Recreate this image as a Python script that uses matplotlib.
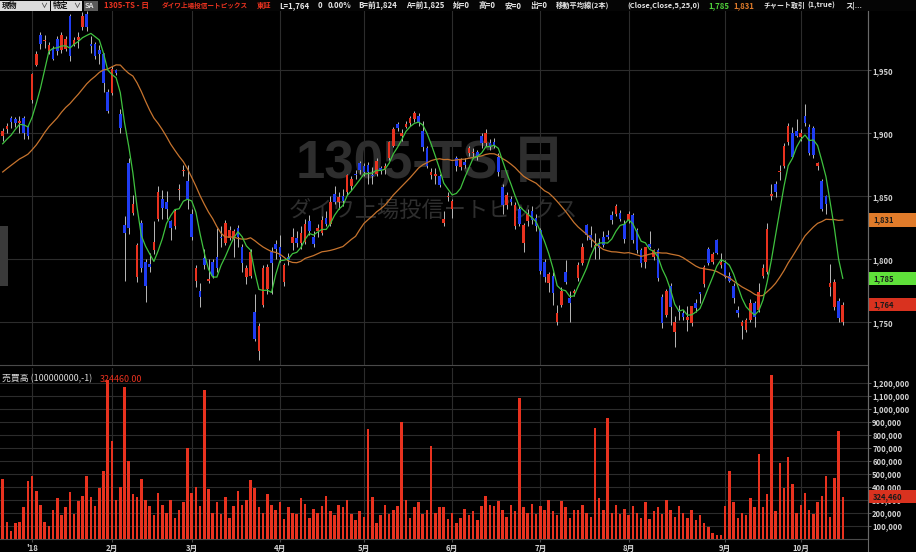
import numpy as np
import matplotlib
matplotlib.use("Agg")
from matplotlib import pyplot as plt
from matplotlib.patches import Rectangle
from matplotlib.transforms import blended_transform_factory

plt.rcParams['font.family'] = ['Noto Sans CJK JP', 'DejaVu Sans']

# closes before the first visible day (only used to seed the moving averages)
prev_close = [1838, 1845, 1842, 1850, 1855, 1848, 1860, 1866, 1852, 1845, 1858, 1870,
              1875, 1868, 1880, 1886, 1878, 1884, 1890, 1882, 1888, 1893, 1885, 1890]

# daily candles: open, high, low, close
ohlc = [
    (1898, 1904, 1894, 1902), (1903, 1908, 1900, 1906), (1912, 1914, 1904, 1909), (1911, 1913, 1905, 1908),
    (1908, 1914, 1900, 1910), (1912, 1914, 1895, 1900), (1905, 1906, 1895, 1898), (1926, 1948, 1924, 1947),
    (1954, 1965, 1953, 1963), (1978, 1980, 1967, 1971), (1973, 1978, 1968, 1974), (1965, 1972, 1963, 1970),
    (1967, 1969, 1958, 1959), (1975, 1977, 1962, 1965), (1966, 1980, 1964, 1978), (1967, 1977, 1965, 1975),
    (1993, 1995, 1957, 1961), (1970, 1976, 1969, 1974), (1974, 1980, 1968, 1976), (1984, 1996, 1982, 1993),
    (1995, 1997, 1981, 1984), (1971, 1977, 1964, 1969), (1971, 1972, 1959, 1961), (1966, 1970, 1955, 1963),
    (1963, 1964, 1933, 1940), (1933, 1935, 1916, 1918), (1932, 1953, 1930, 1951), (1950, 1951, 1946, 1948),
    (1915, 1919, 1900, 1904), (1827, 1834, 1783, 1821), (1876, 1880, 1820, 1825), (1837, 1851, 1835, 1844),
    (1786, 1813, 1782, 1811), (1829, 1831, 1790, 1793), (1798, 1800, 1766, 1779), (1796, 1805, 1790, 1794),
    (1807, 1830, 1804, 1814), (1832, 1858, 1830, 1853), (1848, 1855, 1832, 1841), (1845, 1854, 1832, 1840),
    (1830, 1831, 1815, 1825), (1826, 1840, 1824, 1838), (1855, 1860, 1847, 1856), (1870, 1875, 1866, 1871),
    (1862, 1875, 1840, 1848), (1836, 1840, 1815, 1818), (1783, 1795, 1778, 1793), (1775, 1781, 1762, 1770),
    (1801, 1808, 1792, 1795), (1783, 1800, 1781, 1784), (1798, 1800, 1785, 1787), (1802, 1825, 1790, 1793),
    (1818, 1826, 1810, 1817), (1813, 1831, 1811, 1829), (1817, 1826, 1815, 1823), (1816, 1824, 1802, 1822),
    (1825, 1827, 1810, 1818), (1810, 1812, 1790, 1797), (1786, 1795, 1780, 1793), (1787, 1808, 1785, 1806),
    (1758, 1772, 1735, 1737), (1727, 1749, 1720, 1747), (1764, 1795, 1762, 1793), (1776, 1796, 1772, 1794),
    (1806, 1810, 1772, 1797), (1812, 1815, 1800, 1808), (1810, 1819, 1798, 1802), (1782, 1797, 1779, 1795),
    (1802, 1805, 1795, 1799), (1813, 1825, 1807, 1818), (1817, 1822, 1810, 1813), (1813, 1826, 1808, 1821),
    (1814, 1832, 1812, 1828), (1830, 1835, 1819, 1822), (1818, 1822, 1810, 1812), (1822, 1828, 1818, 1825),
    (1821, 1834, 1819, 1831), (1833, 1838, 1826, 1828), (1828, 1850, 1826, 1845), (1852, 1858, 1844, 1845),
    (1845, 1853, 1840, 1849), (1850, 1856, 1842, 1846), (1853, 1868, 1851, 1867), (1858, 1866, 1855, 1864),
    (1868, 1871, 1864, 1867), (1876, 1878, 1868, 1871), (1874, 1876, 1866, 1869), (1875, 1877, 1860, 1869),
    (1867, 1873, 1860, 1866), (1868, 1880, 1866, 1878), (1872, 1874, 1868, 1870), (1871, 1876, 1868, 1874),
    (1880, 1894, 1879, 1893), (1890, 1905, 1889, 1903), (1907, 1909, 1902, 1904), (1898, 1903, 1894, 1900),
    (1905, 1910, 1904, 1907), (1908, 1914, 1906, 1912), (1911, 1918, 1909, 1916), (1914, 1916, 1906, 1909),
    (1902, 1910, 1886, 1889), (1888, 1890, 1872, 1874), (1867, 1872, 1864, 1869), (1866, 1872, 1860, 1868),
    (1866, 1868, 1857, 1859), (1829, 1838, 1826, 1832), (1849, 1853, 1846, 1850), (1840, 1848, 1833, 1846),
    (1880, 1882, 1870, 1874), (1873, 1880, 1871, 1879), (1877, 1880, 1872, 1875), (1884, 1890, 1882, 1888),
    (1884, 1888, 1880, 1885), (1885, 1887, 1879, 1881), (1898, 1900, 1888, 1892), (1892, 1903, 1890, 1900),
    (1892, 1895, 1887, 1889), (1893, 1896, 1888, 1890), (1881, 1884, 1866, 1869), (1857, 1860, 1836, 1843),
    (1843, 1853, 1840, 1851), (1848, 1850, 1843, 1845), (1826, 1845, 1824, 1843), (1840, 1842, 1826, 1828),
    (1813, 1829, 1806, 1827), (1830, 1840, 1826, 1836), (1838, 1842, 1828, 1831), (1833, 1836, 1822, 1826),
    (1823, 1825, 1788, 1791), (1798, 1800, 1782, 1786), (1781, 1790, 1774, 1788), (1787, 1790, 1764, 1773),
    (1750, 1764, 1748, 1757), (1764, 1778, 1762, 1775), (1790, 1799, 1780, 1782), (1769, 1775, 1750, 1765),
    (1773, 1776, 1771, 1775), (1785, 1798, 1783, 1795), (1797, 1813, 1795, 1810), (1827, 1828, 1815, 1819),
    (1819, 1826, 1810, 1815), (1810, 1821, 1800, 1811), (1812, 1817, 1800, 1809), (1818, 1822, 1810, 1811),
    (1819, 1823, 1816, 1818), (1835, 1838, 1828, 1831), (1836, 1844, 1834, 1842), (1837, 1839, 1830, 1832),
    (1828, 1831, 1813, 1816), (1831, 1838, 1829, 1836), (1835, 1837, 1813, 1815), (1823, 1825, 1805, 1807),
    (1807, 1809, 1794, 1797), (1798, 1810, 1793, 1810), (1812, 1822, 1809, 1810), (1802, 1808, 1799, 1807),
    (1807, 1809, 1783, 1785), (1770, 1772, 1745, 1749), (1756, 1776, 1754, 1775), (1779, 1781, 1748, 1762),
    (1742, 1755, 1730, 1750), (1760, 1764, 1752, 1758), (1757, 1760, 1752, 1754), (1752, 1763, 1743, 1754),
    (1749, 1763, 1747, 1763), (1765, 1768, 1758, 1761), (1774, 1774, 1765, 1772), (1780, 1795, 1778, 1794),
    (1808, 1810, 1795, 1797), (1798, 1806, 1796, 1804), (1815, 1816, 1804, 1805), (1795, 1805, 1793, 1798),
    (1797, 1799, 1785, 1786), (1787, 1790, 1782, 1783), (1779, 1781, 1765, 1769), (1760, 1763, 1754, 1757),
    (1747, 1752, 1737, 1750), (1744, 1753, 1742, 1752), (1752, 1768, 1750, 1765), (1765, 1767, 1746, 1754),
    (1760, 1781, 1758, 1774), (1787, 1796, 1785, 1793), (1790, 1829, 1788, 1824), (1850, 1860, 1847, 1852),
    (1860, 1862, 1849, 1853), (1869, 1875, 1863, 1870), (1874, 1892, 1872, 1890), (1893, 1908, 1891, 1906),
    (1900, 1905, 1880, 1881), (1902, 1911, 1897, 1898), (1897, 1903, 1894, 1900), (1914, 1923, 1906, 1908),
    (1905, 1907, 1883, 1884), (1904, 1906, 1880, 1883), (1874, 1877, 1871, 1876), (1862, 1864, 1838, 1840),
    (1850, 1851, 1836, 1844), (1778, 1796, 1771, 1781), (1762, 1784, 1760, 1782), (1767, 1769, 1750, 1753),
    (1750, 1766, 1748, 1764),
]

# volume in units of 100,000 shares
volume = [4.6, 1.3, 0.6, 1.2, 1.3, 2.4, 4.4,
          4.8, 3.7, 2.6, 1.3, 1.0, 2.2, 3.1, 1.8, 2.4, 3.6, 1.9, 2.9, 3.3, 4.8, 3.2, 2.5, 3.9, 5.2, 12.2,
          7.5, 3.0, 4.0, 11.7, 6.0, 3.4, 3.2, 4.6, 3.0, 2.5, 1.8, 3.5, 2.6, 2.0, 3.0, 1.6, 2.2, 2.8, 7.0, 3.5,
          4.0, 2.5, 11.4, 3.8, 2.0, 2.8, 1.9, 3.2, 1.6, 2.5, 3.7, 2.6, 3.0, 4.5, 3.9, 2.4, 2.0, 3.4, 2.6, 2.2,
          2.8, 1.5, 2.4, 2.0, 1.9, 3.1, 2.7, 1.6, 2.3, 2.0, 2.5, 3.3, 2.1, 1.8, 2.6, 2.4, 3.0, 1.9, 1.4, 2.1,
          1.7, 8.4, 3.2, 1.2, 1.8, 2.6, 1.9, 2.2, 2.5, 9.0, 3.0, 1.6, 2.4, 2.8, 1.9, 2.2, 7.1, 2.0, 2.4, 2.4, 1.5,
          2.0, 1.2, 1.6, 2.3, 1.8, 2.1, 1.4, 2.5, 3.3, 2.6, 2.5, 2.9, 2.2, 1.7, 2.6, 2.1, 10.8, 2.4, 2.0, 2.7, 1.9,
          2.5, 2.2, 3.0, 2.1, 1.8, 2.9, 2.4, 1.6, 2.2, 2.2, 2.6, 2.0, 1.7, 8.5, 3.1, 2.2, 9.3, 2.0, 2.6, 1.9, 2.3,
          1.8, 2.5, 2.0, 1.6, 2.8, 1.5, 2.1, 2.4, 1.9, 3.0, 2.2, 1.7, 2.5, 2.0, 1.6, 2.2, 1.4, 1.8, 1.2, 0.9, 0.4, 0.3, 0.3,
          2.5, 5.2, 2.8, 1.6, 2.0, 1.8, 3.1, 2.4, 6.5, 2.4, 3.4, 12.6, 2.1, 5.8, 3.9, 6.3, 4.2, 2.0,
          2.6, 3.5, 2.2, 1.9, 2.8, 3.3, 4.8, 1.7, 4.7, 8.3, 3.2446]

month_pos = [7, 26, 45, 66, 86, 107, 128, 149, 172, 190]
month_labels = ["'18", "2月", "3月", "4月", "5月", "6月", "7月", "8月", "9月", "10月"]
price_ticks = [1750, 1800, 1850, 1900, 1950]
vol_ticks = [100000, 200000, 300000, 400000, 500000, 600000, 700000, 800000,
             900000, 1000000, 1100000, 1200000]

o, h, l, c = (np.array(v, dtype=float) for v in zip(*ohlc))
vol = np.array(volume) * 100000
x = np.arange(len(c))

allc = np.array(prev_close + list(c), dtype=float)
ma5 = np.convolve(allc, np.ones(5) / 5, mode='valid')[-len(c):]
ma25 = np.convolve(allc, np.ones(25) / 25, mode='valid')[-len(c):]

RED = '#e8321f'
BLUE = '#1f3cf2'
GRID = '#2c2c2c'
TXT = '#d2d2d2'

W, H = 916, 552
fig = plt.figure(figsize=(W / 100, H / 100), dpi=100, facecolor='black')

def fax(x0, y0, x1, y1):
    return fig.add_axes([x0 / W, 1 - y1 / H, (x1 - x0) / W, (y1 - y0) / H])

ax = fax(0, 11, 868, 365)
axv = fax(0, 368, 868, 538.7)
xlim = (-0.64, 206.0)

for a in (ax, axv):
    a.set_facecolor('black')
    a.set_xlim(*xlim)
    for s in ('left', 'top'):
        a.spines[s].set_visible(False)
    a.spines['right'].set_color('#6a6a6a')
    a.spines['bottom'].set_color('#4a4a4a')
    a.yaxis.tick_right()
    a.tick_params(axis='y', colors='#6a6a6a', labelcolor=TXT, labelsize=5.5, length=2, width=0.6, pad=1)
    a.set_xticks(month_pos)
    a.grid(color=GRID, lw=0.8)
    a.set_axisbelow(True)

# price panel
ax.set_ylim(1716, 1997)
ax.set_yticks(price_ticks)
ax.set_yticklabels([f'{t:,}' for t in price_ticks], fontweight='bold')
ax.tick_params(axis='x', length=0, labelbottom=False)

# watermark (x in axes fraction, y in price)
tr = blended_transform_factory(ax.transAxes, ax.transData)
ax.text(0.496, 1876, '1305-TS,日', transform=tr, color='#2e2e2e', fontsize=38, fontweight='bold',
        ha='center', va='center', zorder=0, family=['Liberation Sans', 'Noto Sans CJK JP'])
ax.text(0.499, 1839, 'ダイワ上場投信ートピックス', transform=tr, color='#2e2e2e', fontsize=16,
        ha='center', va='center', zorder=0)

up = c >= o
ax.vlines(x, l, h, color='#b9b9b9', lw=0.7, zorder=2)
body = np.maximum(np.abs(c - o), 0.9)
ax.bar(x, body, bottom=np.minimum(o, c), width=0.62,
       color=np.where(up, RED, BLUE), zorder=3, linewidth=0)
ax.plot(x, ma25, color='#c7742e', lw=0.9, zorder=4)
ax.plot(x, ma5, color='#3fc23f', lw=0.9, zorder=5)

for val, col, lab in [(ma25[-1], '#e07b2a', '1,831'), (ma5[-1], '#5fe03a', '1,785'), (c[-1], '#d9321f', '1,764')]:
    ax.add_patch(Rectangle((1.0, val - 5.2), 48 / 868, 10.4, transform=tr,
                           facecolor=col, edgecolor='none', clip_on=False, zorder=6))
    ax.text(1.006, val, lab, transform=tr, color='#1a1a1a', fontsize=5.5, fontweight='bold',
            va='center', ha='left', clip_on=False, zorder=7)

# volume panel
axv.set_ylim(0, 1313000)
axv.set_yticks(vol_ticks)
axv.set_yticklabels([f'{t:,}' for t in vol_ticks], fontweight='bold')
axv.set_xticklabels(month_labels, fontweight='bold')
axv.tick_params(axis='x', colors='#4a4a4a', labelcolor=TXT, labelsize=5.6, length=2, pad=1.5)
axv.bar(x, vol, width=0.6, color=RED, linewidth=0, zorder=3)
trv = blended_transform_factory(axv.transAxes, axv.transData)
axv.add_patch(Rectangle((1.0, vol[-1] - 50000), 48 / 868, 100000, transform=trv,
                        facecolor='#d9321f', edgecolor='none', clip_on=False, zorder=6))
axv.text(1.006, vol[-1], f'{int(vol[-1]):,}', transform=trv, color='#1a1a1a', fontweight='bold',
         fontsize=5.5, va='center', ha='left', clip_on=False, zorder=7)
axv.text(2 / 868, 0.935, '売買高 (100000000,-1)', transform=axv.transAxes, color='#dddddd',
         fontsize=6.4, va='center')
axv.text(100 / 868, 0.935, '324460.00', transform=axv.transAxes, color=RED,
         fontsize=6.4, va='center')

# header bar
def hx(px):
    return px / W

hy = 1 - 5.5 / H
fig.patches.append(Rectangle((0, 1 - 11 / H), 1, 11 / H, transform=fig.transFigure,
                             facecolor='#050505', edgecolor='none'))
for x0, x1, fc in [(0, 50, '#dcdcdc'), (51, 82, '#dcdcdc'), (84, 98, '#5a5a5a')]:
    fig.patches.append(Rectangle((hx(x0), 1 - 10.5 / H), (x1 - x0) / W, 10 / H,
                                 transform=fig.transFigure, facecolor=fc, edgecolor='none'))
# (x pixel, text, colour, font size)
header = [
    (2, '現物', '#111111', 5.6), (40, '∨', '#444444', 5.0), (53, '特定', '#111111', 5.6),
    (73, '∨', '#444444', 5.0), (85, 'SA', '#dddddd', 5.4),
    (104, '1305-TS - 日', '#e8321f', 5.6), (162, 'ダイワ上場投信ートピックス', '#e8321f', 4.8),
    (257, '東証', '#e8321f', 5.2),
    (279, 'L=1,764', '#e6e6e6', 5.6), (318, '0', '#e6e6e6', 5.6), (328, '0.00%', '#e6e6e6', 5.6),
    (358, 'B=前1,824', '#e6e6e6', 5.6), (406, 'A=前1,825', '#e6e6e6', 5.6),
    (453, '始=0', '#e6e6e6', 5.6), (478, '高=0', '#e6e6e6', 5.6), (505, '安=0', '#e6e6e6', 5.6),
    (530, '出=0', '#e6e6e6', 5.6), (556, '移動平均線(2本)', '#e6e6e6', 5.2),
    (627, '(Close,Close,5,25,0)', '#e6e6e6', 5.4),
    (708, '1,785', '#4fd13a', 5.6), (733, '1,831', '#e07b2a', 5.6),
    (763, 'チャート取引', '#e6e6e6', 5.0), (807, '(1,true)', '#e6e6e6', 5.4), (845, 'ス|...', '#e6e6e6', 5.4),
]
for px, s, col, fs in header:
    fig.text(hx(px), hy, s, color=col, fontsize=fs, va='center', ha='left', fontweight='bold')

# little scroll tab on the left edge
fig.patches.append(Rectangle((0, 1 - 286 / H), 8 / W, 60 / H, transform=fig.transFigure,
                             facecolor='#3a3a3a', edgecolor='none'))
# right axis line through the whole height
fig.add_artist(plt.Line2D([868 / W, 868 / W], [0, 1 - 11 / H], transform=fig.transFigure,
                          color='#6a6a6a', lw=0.8))

fig.savefig('out.png', dpi=100, facecolor='black')
